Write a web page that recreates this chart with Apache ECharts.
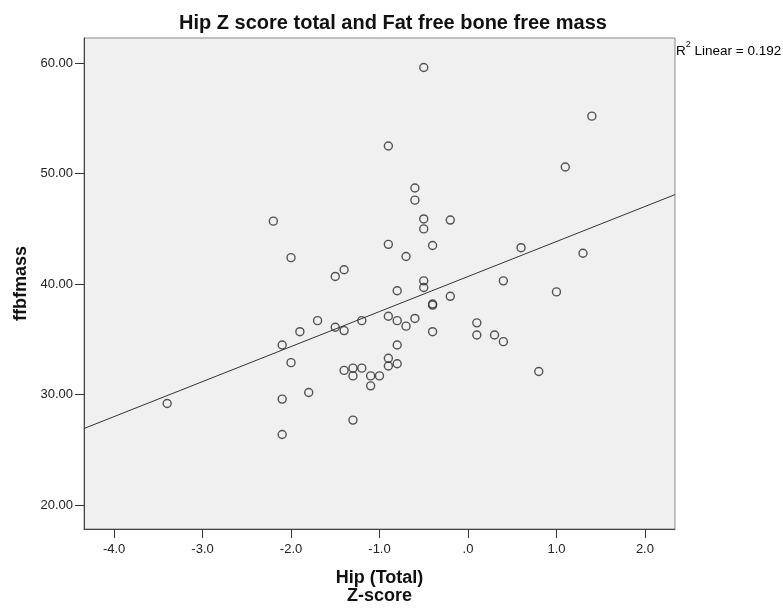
<!DOCTYPE html>
<html>
<head>
<meta charset="utf-8">
<title>Hip Z score total and Fat free bone free mass</title>
<script src="https://cdn.jsdelivr.net/npm/echarts@6/dist/echarts.min.js"></script>
<style>
html, body { margin: 0; padding: 0; background: #fff; }
#chart { width: 783px; height: 610px; }
</style>
</head>
<body>
<div id="chart"></div>
<script>
// Hip (Total) Z-score per subject
var hipZ = [
  -3.4, -2.2, -2.1, -2.1, -2.1, -2.0, -2.0, -1.9, -1.8, -1.7,
  -1.5, -1.5, -1.4, -1.4, -1.4, -1.3, -1.3, -1.3, -1.2, -1.2,
  -1.1, -1.1, -1.0, -0.9, -0.9, -0.9, -0.9, -0.9, -0.8, -0.8,
  -0.8, -0.8, -0.7, -0.7, -0.6, -0.6, -0.6, -0.5, -0.5, -0.5,
  -0.5, -0.5, -0.4, -0.4, -0.4, -0.4, -0.2, -0.2, 0.1, 0.1,
  0.3, 0.4, 0.4, 0.6, 0.8, 1.0, 1.1, 1.3, 1.4
];
// fat free bone free mass, same order
var ffbfmass = [
  29.2, 45.7, 34.5, 29.6, 26.4, 42.4, 32.9, 35.7, 30.2, 36.7,
  40.7, 36.1, 41.3, 35.8, 32.2, 32.4, 31.7, 27.7, 36.7, 32.4,
  31.7, 30.8, 31.7, 52.5, 43.6, 37.1, 33.3, 32.6, 39.4, 36.7,
  34.5, 32.8, 42.5, 36.2, 48.7, 47.6, 36.9, 59.6, 45.9, 45.0,
  40.3, 39.7, 43.5, 38.2, 38.1, 35.7, 45.8, 38.9, 36.5, 35.4,
  35.4, 40.3, 34.8, 43.3, 32.1, 39.3, 50.6, 42.8, 55.2
];
var xTicks = [-4, -3, -2, -1, 0, 1, 2];
var yTicks = [20, 30, 40, 50, 60];
var xRange = [-4.34, 2.34];
var yRange = [17.85, 62.27];

var points = [];
for (var i = 0; i < hipZ.length; i++) {
  points.push([hipZ[i], ffbfmass[i]]);
}

// least squares fit line
function fitLine(xs, ys) {
  var n = xs.length, sx = 0, sy = 0, sxx = 0, sxy = 0;
  for (var i = 0; i < n; i++) {
    sx += xs[i]; sy += ys[i];
    sxx += xs[i] * xs[i]; sxy += xs[i] * ys[i];
  }
  var b = (n * sxy - sx * sy) / (n * sxx - sx * sx);
  var a = (sy - b * sx) / n;
  return { a: a, b: b };
}
var fit = fitLine(hipZ, ffbfmass);
var fitData = [
  [xRange[0], fit.a + fit.b * xRange[0]],
  [xRange[1], fit.a + fit.b * xRange[1]]
];

var font = '"Liberation Sans", Arial, sans-serif';
var myChart = echarts.init(document.getElementById('chart'));
myChart.setOption({
  animation: false,
  backgroundColor: '#fff',
  title: {
    text: 'Hip Z score total and Fat free bone free mass',
    left: 388,
    textAlign: 'center',
    top: 8,
    textStyle: { fontFamily: font, fontSize: 20, fontWeight: 'bold', color: '#111' }
  },
  grid: {
    left: 84,
    right: 108,
    top: 38,
    bottom: 76,
    show: true,
    backgroundColor: '#f0f0f0',
    borderColor: '#8a8a8a',
    borderWidth: 1
  },
  xAxis: {
    type: 'value',
    min: xRange[0],
    max: xRange[1],
    name: 'Hip (Total)\nZ-score',
    nameLocation: 'middle',
    nameGap: 40,
    nameTextStyle: { fontFamily: font, fontSize: 18, fontWeight: 'bold', color: '#111', lineHeight: 18, verticalAlign: 'top' },
    splitLine: { show: false },
    axisLine: { show: true, onZero: false, lineStyle: { color: '#444', width: 1 } },
    axisTick: { show: true, length: 9, customValues: xTicks, lineStyle: { color: '#333' } },
    axisLabel: {
      customValues: xTicks,
      margin: 14,
      fontFamily: font,
      fontSize: 13,
      color: '#222',
      formatter: function (v) { return v === 0 ? '.0' : v.toFixed(1); }
    }
  },
  yAxis: {
    type: 'value',
    min: yRange[0],
    max: yRange[1],
    name: 'ffbfmass',
    nameLocation: 'middle',
    nameGap: 52,
    nameRotate: 90,
    nameTextStyle: { fontFamily: font, fontSize: 18, fontWeight: 'bold', color: '#111' },
    splitLine: { show: false },
    axisLine: { show: true, onZero: false, lineStyle: { color: '#444', width: 1 } },
    axisTick: { show: true, length: 9, customValues: yTicks, lineStyle: { color: '#333' } },
    axisLabel: {
      customValues: yTicks,
      margin: 11,
      fontFamily: font,
      fontSize: 13,
      color: '#222',
      formatter: function (v) { return v.toFixed(2); }
    }
  },
  graphic: [{
    type: 'text',
    left: 676,
    top: 40,
    style: {
      text: '{r|R}{s|2}{r| Linear = 0.192}',
      rich: {
        r: { fontFamily: font, fontSize: 13.5, color: '#111', padding: [4, 0, 0, 0] },
        s: { fontFamily: font, fontSize: 9, color: '#111', verticalAlign: 'top' }
      }
    }
  }],
  series: [
    {
      name: 'fit',
      type: 'line',
      data: fitData,
      symbol: 'none',
      silent: true,
      lineStyle: { color: '#333', width: 1 },
      z: 1
    },
    {
      name: 'ffbfmass',
      type: 'scatter',
      data: points,
      symbol: 'circle',
      symbolSize: 8,
      itemStyle: { color: 'rgba(0,0,0,0)', borderColor: '#2a2a2a', borderWidth: 1.4 },
      z: 2
    }
  ]
});
</script>
</body>
</html>
